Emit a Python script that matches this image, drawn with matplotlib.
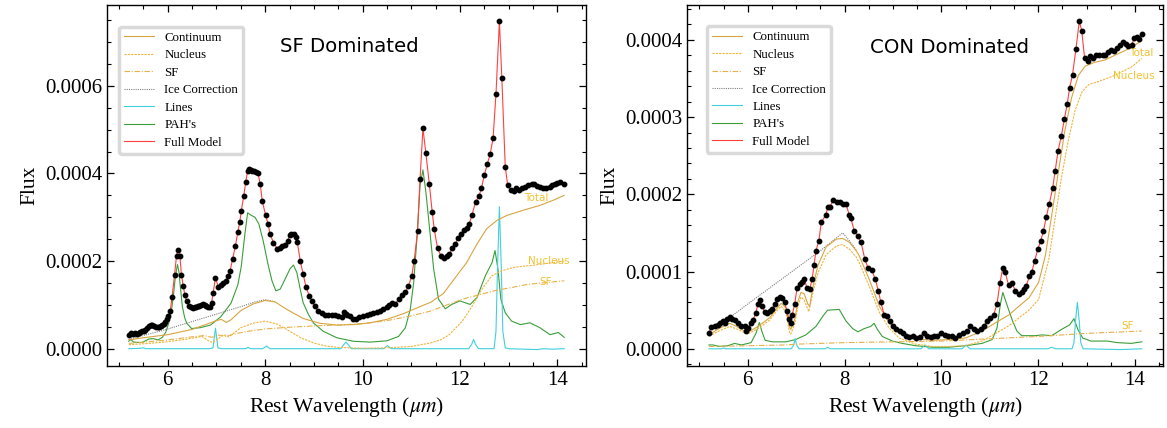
import numpy as np
import matplotlib
matplotlib.use("Agg")
import matplotlib.pyplot as plt
from matplotlib.ticker import MultipleLocator, AutoMinorLocator, FormatStrFormatter

plt.rcParams["font.family"] = ["Liberation Serif", "DejaVu Serif"]
plt.rcParams["mathtext.fontset"] = "stix"

SCALE = 1e-4  # all flux values below are in units of 1e-4

# ---------------- SF dominated ----------------
sf_wave = [5.20, 5.24, 5.29, 5.33, 5.37, 5.40, 5.44, 5.47, 5.51, 5.54, 5.58, 5.61, 5.65, 5.68, 5.72,
           5.75, 5.79, 5.82, 5.86, 5.89, 5.92, 5.95, 5.98, 6.01, 6.05, 6.09, 6.14, 6.18, 6.21, 6.25,
           6.28, 6.32, 6.35, 6.39, 6.44, 6.48, 6.51, 6.55, 6.58, 6.62, 6.65, 6.69, 6.72, 6.76, 6.79,
           6.83, 6.86, 6.90, 6.93, 6.98, 7.04, 7.09, 7.14, 7.19, 7.24, 7.28, 7.33, 7.39, 7.44, 7.48,
           7.51, 7.56, 7.60, 7.64, 7.67, 7.71, 7.74, 7.78, 7.81, 7.85, 7.90, 7.94, 8.01, 8.06, 8.10,
           8.17, 8.25, 8.30, 8.34, 8.41, 8.46, 8.50, 8.54, 8.59, 8.63, 8.66, 8.72, 8.78, 8.84, 8.91,
           8.96, 9.02, 9.09, 9.16, 9.23, 9.30, 9.37, 9.44, 9.50, 9.57, 9.62, 9.66, 9.69, 9.74, 9.81,
           9.87, 9.93, 10.00, 10.09, 10.15, 10.22, 10.29, 10.36, 10.43, 10.50, 10.55, 10.60, 10.67,
           10.74, 10.81, 10.88, 10.94, 11.01, 11.06, 11.13, 11.18, 11.24, 11.30, 11.37, 11.43, 11.47,
           11.54, 11.61, 11.67, 11.73, 11.78, 11.84, 11.90, 11.96, 12.02, 12.08, 12.14, 12.19, 12.25,
           12.32, 12.39, 12.44, 12.50, 12.56, 12.62, 12.68, 12.74, 12.81, 12.86, 12.93, 12.98, 13.04,
           13.10, 13.16, 13.22, 13.28, 13.34, 13.40, 13.47, 13.53, 13.59, 13.65, 13.71, 13.77, 13.84,
           13.89, 13.95, 14.00, 14.06, 14.14]
sf_flux = [0.32, 0.35, 0.34, 0.36, 0.34, 0.35, 0.38, 0.41, 0.40, 0.42, 0.47, 0.52, 0.55, 0.54, 0.51,
           0.50, 0.49, 0.50, 0.52, 0.54, 0.57, 0.62, 0.67, 0.74, 0.85, 1.19, 1.69, 2.12, 2.25, 2.12,
           1.69, 1.42, 1.23, 1.08, 0.98, 0.96, 0.94, 0.95, 0.96, 0.97, 0.98, 1.00, 1.02, 1.00, 0.98,
           0.95, 0.96, 1.05, 1.27, 1.62, 1.41, 1.45, 1.50, 1.54, 1.65, 1.77, 2.04, 2.35, 2.67, 2.90,
           3.15, 3.48, 3.80, 4.05, 4.10, 4.08, 4.06, 4.05, 4.03, 4.02, 3.75, 3.38, 3.04, 2.85, 2.62,
           2.42, 2.28, 2.30, 2.34, 2.37, 2.45, 2.60, 2.62, 2.62, 2.55, 2.43, 2.01, 1.70, 1.40, 1.20,
           1.09, 0.97, 0.86, 0.82, 0.78, 0.76, 0.78, 0.76, 0.74, 0.73, 0.84, 0.80, 0.78, 0.74, 0.68,
           0.68, 0.73, 0.74, 0.76, 0.80, 0.82, 0.84, 0.86, 0.90, 0.95, 0.99, 1.04, 1.01,
           1.13, 1.22, 1.30, 1.42, 1.66, 2.01, 2.68, 3.87, 5.03, 4.46, 3.77, 3.12, 2.74,
           2.29, 2.12, 2.08, 2.11, 2.16, 2.29, 2.39, 2.52, 2.62, 2.70, 2.75, 2.85, 3.06,
           3.35, 3.48, 3.66, 3.96, 4.21, 4.44, 4.80, 5.82, 7.47, 6.17, 4.15, 3.73, 3.63,
           3.59, 3.66, 3.62, 3.66, 3.68, 3.73, 3.77, 3.75, 3.72, 3.68, 3.67, 3.66, 3.68,
           3.73, 3.77, 3.79, 3.81, 3.75]

sf_cont_wave = [5.20, 5.50, 6.00, 6.50, 6.80, 7.00, 7.10, 7.20, 7.30, 7.50, 7.75, 8.00, 8.20, 8.44,
                8.78, 9.12, 9.47, 9.81, 10.15, 10.50, 10.84, 11.18, 11.40, 11.66, 11.93, 12.14,
                12.35, 12.55, 12.76, 12.96, 13.30, 13.64, 13.92, 14.14]
sf_cont = [0.20, 0.25, 0.32, 0.44, 0.56, 0.64, 0.67, 0.60, 0.66, 0.87, 1.02, 1.10, 1.07, 0.90,
           0.69, 0.58, 0.54, 0.55, 0.59, 0.67, 0.80, 0.96, 1.06, 1.26, 1.66, 1.97,
           2.39, 2.74, 2.93, 3.04, 3.16, 3.27, 3.39, 3.50]

sf_nuc_wave = [5.20, 5.60, 6.00, 6.40, 6.70, 6.85, 6.92, 7.05, 7.15, 7.25, 7.35, 7.50, 7.75, 8.00,
               8.25, 8.50, 8.75, 9.00, 9.25, 9.50, 10.00, 10.50, 11.00, 11.39, 11.60, 11.78, 12.05,
               12.25, 12.45, 12.65, 12.86, 13.13, 13.54, 14.14]
sf_nuc = [0.09, 0.12, 0.16, 0.22, 0.28, 0.17, 0.14, 0.24, 0.32, 0.27, 0.35, 0.48, 0.58, 0.63,
          0.56, 0.40, 0.24, 0.13, 0.06, 0.03, 0.01, 0.02, 0.05, 0.13, 0.20, 0.32, 0.63,
          0.97, 1.36, 1.66, 1.78, 1.86, 1.91, 2.00]

sf_sf_wave = [5.20, 5.60, 6.00, 6.50, 6.75, 6.90, 7.05, 7.20, 7.35, 7.60, 8.00, 8.50, 9.00, 9.50,
              10.00, 10.50, 11.00, 11.40, 12.05, 12.70, 13.40, 14.14]
sf_sf = [0.12, 0.16, 0.20, 0.27, 0.30, 0.26, 0.31, 0.28, 0.33, 0.39, 0.45, 0.49, 0.52, 0.54,
         0.57, 0.64, 0.75, 0.86, 1.13, 1.32, 1.47, 1.55]

sf_ice_wave = [5.20, 5.60, 6.00, 6.50, 7.00, 7.50, 7.80, 8.00, 8.20]
sf_ice = [0.21, 0.33, 0.45, 0.62, 0.79, 0.96, 1.07, 1.12, 1.07]

sf_pah_wave = [5.20, 5.24, 5.30, 5.47, 5.61, 5.70, 5.80, 5.89, 5.96, 6.02, 6.08, 6.12, 6.16, 6.20,
               6.23, 6.26, 6.30, 6.35, 6.39, 6.49, 6.67, 6.88, 7.09, 7.30, 7.44, 7.51, 7.58, 7.64,
               7.72, 7.79, 7.87, 7.96, 8.06, 8.14, 8.22, 8.31, 8.41, 8.51, 8.58, 8.65, 8.72, 8.78,
               8.89, 8.99, 9.19, 9.47, 9.81, 10.15, 10.50, 10.74, 10.88, 10.98, 11.05, 11.12, 11.18,
               11.24, 11.30, 11.37, 11.46, 11.56, 11.70, 11.83, 12.00, 12.21, 12.35, 12.52, 12.66,
               12.72, 12.78, 12.84, 12.93, 13.06, 13.24, 13.44, 13.64, 13.85, 14.02, 14.14]
sf_pah = [0.17, 0.21, 0.15, 0.14, 0.22, 0.23, 0.20, 0.26, 0.38, 0.58, 0.90, 1.25, 1.68, 1.92,
          1.75, 1.40, 0.96, 0.70, 0.58, 0.46, 0.48, 0.54, 0.73, 1.04, 1.46, 1.88, 2.58, 3.10,
          3.04, 3.00, 2.85, 2.46, 1.92, 1.55, 1.32, 1.36, 1.59, 1.82, 1.91, 1.74, 1.36, 1.05,
          0.78, 0.59, 0.40, 0.25, 0.17, 0.15, 0.18, 0.28, 0.48, 0.90, 1.51, 2.58, 3.73,
          4.08, 3.58, 2.81, 1.82, 1.13, 0.91, 1.01, 1.09, 1.01, 1.17, 1.66, 1.97,
          2.24, 1.82, 1.13, 0.82, 0.63, 0.55, 0.59, 0.48, 0.32, 0.37, 0.26]

sf_line_wave = [5.20, 5.45, 5.50, 5.55, 6.85, 6.93, 6.96, 6.98, 7.00, 7.03, 7.10, 7.60, 7.65, 7.70,
                7.95, 8.03, 8.10, 9.55, 9.62, 9.66, 9.70, 9.77, 10.43, 10.51, 10.59, 12.18, 12.24,
                12.28, 12.32, 12.38, 12.70, 12.74, 12.77, 12.81, 12.85, 12.88, 12.93, 13.00, 13.60,
                13.70, 13.90, 14.14]
sf_line = [0.00, 0.01, 0.02, 0.00, 0.00, 0.02, 0.30, 0.47, 0.30, 0.02, 0.00, 0.00, 0.03, 0.00,
           0.00, 0.06, 0.00, 0.00, 0.10, 0.15, 0.10, 0.00, 0.00, 0.07, 0.00, 0.00, 0.10,
           0.21, 0.10, 0.00, 0.00, 0.40, 1.80, 3.24, 1.80, 0.40, 0.02, 0.00, -0.02,
           0.00, -0.01, 0.00]

# ---------------- CON dominated ----------------
con_wave = [5.20, 5.25, 5.32, 5.38, 5.42, 5.48, 5.53, 5.58, 5.63, 5.68, 5.74, 5.80, 5.87, 5.94, 5.97,
            6.01, 6.06, 6.11, 6.17, 6.21, 6.26, 6.30, 6.35, 6.40, 6.45, 6.51, 6.56, 6.61, 6.66, 6.71,
            6.76, 6.81, 6.85, 6.89, 6.92, 6.97, 7.02, 7.07, 7.13, 7.17, 7.22, 7.28, 7.33, 7.37, 7.41,
            7.47, 7.52, 7.61, 7.66, 7.70, 7.77, 7.84, 7.91, 7.96, 8.03, 8.10, 8.13, 8.20, 8.27, 8.34,
            8.42, 8.49, 8.56, 8.63, 8.70, 8.75, 8.82, 8.88, 8.93, 9.00, 9.07, 9.14, 9.21, 9.27, 9.34,
            9.41, 9.48, 9.55, 9.64, 9.71, 9.78, 9.85, 9.91, 10.00, 10.07, 10.14, 10.21, 10.29, 10.37,
            10.44, 10.53, 10.60, 10.67, 10.74, 10.81, 10.88, 10.94, 11.01, 11.08, 11.15, 11.21, 11.27,
            11.32, 11.39, 11.46, 11.53, 11.60, 11.66, 11.70, 11.75, 11.82, 11.87, 11.93, 11.99, 12.05,
            12.11, 12.17, 12.23, 12.30, 12.35, 12.41, 12.48, 12.54, 12.60, 12.65, 12.71, 12.78, 12.85,
            12.90, 12.96, 13.02, 13.08, 13.14, 13.20, 13.26, 13.33, 13.39, 13.45, 13.51, 13.57, 13.63,
            13.69, 13.75, 13.81, 13.86, 13.93, 13.99, 14.04, 14.09, 14.14]
con_flux = [0.21, 0.28, 0.29, 0.31, 0.33, 0.36, 0.34, 0.38, 0.41, 0.39, 0.37, 0.34, 0.30, 0.29, 0.23,
            0.27, 0.34, 0.37, 0.47, 0.58, 0.63, 0.55, 0.48, 0.46, 0.49, 0.52, 0.58, 0.64, 0.67, 0.66,
            0.60, 0.49, 0.38, 0.34, 0.44, 0.58, 0.79, 0.84, 0.87, 0.91, 0.79, 0.77, 0.90, 1.09, 1.27,
            1.40, 1.64, 1.73, 1.84, 1.84, 1.93, 1.90, 1.90, 1.88, 1.87, 1.73, 1.69, 1.53, 1.46, 1.38,
            1.16, 1.04, 1.02, 0.91, 0.75, 0.60, 0.44, 0.42, 0.36, 0.29, 0.25, 0.23, 0.20, 0.16, 0.15,
            0.16, 0.14, 0.15, 0.21, 0.16, 0.15, 0.16, 0.17, 0.20, 0.18, 0.17, 0.16, 0.14, 0.18,
            0.20, 0.23, 0.29, 0.26, 0.23, 0.26, 0.29, 0.36, 0.40, 0.44, 0.58, 0.85, 1.05,
            0.99, 0.82, 0.85, 0.75, 0.71, 0.73, 0.77, 0.81, 0.94, 1.00, 1.14, 1.29, 1.39,
            1.53, 1.71, 1.88, 2.08, 2.30, 2.56, 2.76, 2.97, 3.17, 3.38, 3.55, 3.88, 4.24,
            4.12, 3.76, 3.73, 3.79, 3.76, 3.80, 3.80, 3.81, 3.81, 3.84, 3.87, 3.86, 3.89,
            3.93, 3.97, 3.95, 3.92, 3.93, 4.03, 4.04, 4.01, 4.08]

con_cont_wave = [5.20, 5.40, 5.63, 5.77, 6.00, 6.21, 6.45, 6.60, 6.69, 6.79, 6.86, 6.89, 6.97, 7.04,
                 7.10, 7.17, 7.24, 7.28, 7.35, 7.45, 7.62, 7.83, 7.96, 8.10, 8.24, 8.30, 8.51, 8.72,
                 8.92, 9.13, 9.47, 9.82, 10.16, 10.50, 10.84, 11.18, 11.40, 11.60, 11.81, 12.01,
                 12.15, 12.28, 12.42, 12.55, 12.69, 12.83, 12.97, 13.17, 13.38, 13.58, 13.79, 13.99,
                 14.14]
con_cont = [0.18, 0.26, 0.33, 0.29, 0.21, 0.29, 0.40, 0.52, 0.59, 0.53, 0.29, 0.25, 0.38, 0.62,
            0.73, 0.71, 0.58, 0.55, 0.81, 1.08, 1.32, 1.42, 1.43, 1.38, 1.27, 1.21, 0.90, 0.55,
            0.34, 0.20, 0.13, 0.11, 0.12, 0.14, 0.23, 0.36, 0.44, 0.55, 0.66, 0.86,
            1.21, 1.73, 2.30, 2.82, 3.25, 3.54, 3.66, 3.71, 3.74, 3.80, 3.86, 3.93,
            3.99]

con_nuc_wave = [5.20, 5.40, 5.63, 5.80, 6.00, 6.21, 6.45, 6.60, 6.69, 6.79, 6.86, 6.89, 6.97, 7.04,
                7.10, 7.17, 7.26, 7.35, 7.45, 7.62, 7.83, 7.96, 8.10, 8.24, 8.30, 8.51, 8.72, 8.92,
                9.13, 9.47, 9.82, 10.16, 10.50, 10.84, 11.18, 11.40, 11.60, 11.81, 12.01, 12.22,
                12.35, 12.48, 12.62, 12.76, 12.90, 13.04, 13.24, 13.58, 13.93, 14.14]
con_nuc = [0.16, 0.23, 0.29, 0.25, 0.19, 0.26, 0.37, 0.49, 0.55, 0.48, 0.22, 0.19, 0.32, 0.56,
           0.67, 0.63, 0.48, 0.74, 0.98, 1.22, 1.33, 1.35, 1.29, 1.19, 1.12, 0.81, 0.47, 0.27,
           0.14, 0.06, 0.03, 0.03, 0.04, 0.10, 0.22, 0.30, 0.40, 0.50, 0.64, 1.16,
           1.69, 2.21, 2.69, 3.08, 3.32, 3.42, 3.46, 3.54, 3.65, 3.76]

con_sf_wave = [5.20, 6.00, 6.80, 7.00, 8.00, 9.00, 10.00, 11.00, 12.00, 13.00, 14.14]
con_sf = [0.03, 0.04, 0.05, 0.06, 0.08, 0.09, 0.10, 0.13, 0.16, 0.20, 0.23]

con_ice_wave = [5.62, 6.00, 6.50, 7.00, 7.50, 7.96, 8.10, 8.24]
con_ice = [0.40, 0.58, 0.81, 1.04, 1.27, 1.50, 1.40, 1.28]

con_pah_wave = [5.20, 5.28, 5.42, 5.59, 5.73, 5.87, 6.07, 6.17, 6.24, 6.29, 6.36, 6.51, 6.79, 6.99,
                7.20, 7.41, 7.55, 7.65, 7.89, 8.03, 8.17, 8.28, 8.40, 8.54, 8.61, 8.68, 8.78, 8.99,
                9.19, 9.47, 9.81, 10.15, 10.50, 10.84, 11.05, 11.15, 11.22, 11.27, 11.35, 11.46,
                11.56, 11.66, 11.94, 12.08, 12.28, 12.48, 12.65, 12.74, 12.82, 12.92, 13.09, 13.43,
                13.64, 13.92, 14.14]
con_pah = [0.05, 0.05, 0.03, 0.04, 0.07, 0.05, 0.08, 0.20, 0.34, 0.23, 0.11, 0.09, 0.09, 0.12,
           0.18, 0.29, 0.42, 0.50, 0.51, 0.36, 0.26, 0.22, 0.26, 0.29, 0.33, 0.25, 0.16, 0.10,
           0.07, 0.04, 0.02, 0.02, 0.04, 0.07, 0.12, 0.27, 0.58, 0.73, 0.58, 0.38,
           0.23, 0.17, 0.17, 0.18, 0.17, 0.25, 0.31, 0.39, 0.25, 0.14, 0.10, 0.10,
           0.08, 0.07, 0.09]

con_line_wave = [5.20, 5.45, 5.50, 5.55, 6.90, 6.95, 6.98, 7.01, 7.06, 7.60, 7.65, 7.70, 9.58, 9.66,
                 9.74, 10.43, 10.51, 10.59, 12.20, 12.28, 12.36, 12.70, 12.74, 12.77, 12.81, 12.85,
                 12.88, 12.93, 13.70, 14.14]
con_line = [0.00, 0.00, 0.01, 0.00, 0.00, 0.05, 0.13, 0.05, 0.00, 0.00, 0.02, 0.00, 0.00, 0.05,
            0.00, 0.00, 0.05, 0.00, 0.00, 0.02, 0.00, 0.00, 0.08, 0.35, 0.60, 0.35,
            0.08, 0.00, -0.01, 0.00]

c_cont = "#d9a441"
c_nuc = "#f0b43c"
c_sf = "#e8b04a"
c_lab = "#f2c230"
lw = 0.8


def draw(ax, d, title, tpos, labels, ystep, leg_anchor):
    s = SCALE
    ax.plot(d["pah_w"], np.array(d["pah"]) * s, color="#3a9e3a", lw=lw, label="PAH's", zorder=2)
    ax.plot(d["line_w"], np.array(d["line"]) * s, color="#3fd0dc", lw=lw, label="Lines", zorder=2)
    ax.plot(d["ice_w"], np.array(d["ice"]) * s, color="grey", lw=lw, ls=(0, (1, 1)),
            label="Ice Correction", zorder=2)
    ax.plot(d["sf_w"], np.array(d["sf"]) * s, color=c_sf, lw=lw, ls=(0, (5, 1.5, 1, 1.5)),
            label="SF", zorder=3)
    ax.plot(d["nuc_w"], np.array(d["nuc"]) * s, color=c_nuc, lw=lw, ls=(0, (2, 1)),
            label="Nucleus", zorder=3)
    ax.plot(d["cont_w"], np.array(d["cont"]) * s, color=c_cont, lw=lw, label="Continuum", zorder=3)
    ax.plot(d["w"], np.array(d["f"]) * s, color="#ff4040", lw=lw, label="Full Model", zorder=4)
    ax.plot(d["w"], np.array(d["f"]) * s, "o", color="black", ms=3.2, zorder=5)

    for txt, x, y in labels:
        ax.text(x, y * s, txt, color=c_lab, fontsize=7.5, family="DejaVu Sans",
                ha="center", va="center")

    ax.text(tpos[0], tpos[1], title, transform=ax.transAxes, family="DejaVu Sans",
            fontsize=14.2, ha="center", va="center")

    h, l = ax.get_legend_handles_labels()
    order = ["Continuum", "Nucleus", "SF", "Ice Correction", "Lines", "PAH's", "Full Model"]
    hd = dict(zip(l, h))
    leg = ax.legend([hd[k] for k in order], order, loc="upper left", bbox_to_anchor=leg_anchor,
                    fontsize=9.3, frameon=True, fancybox=True, borderaxespad=0,
                    handlelength=2.3, labelspacing=0.42)
    leg.get_frame().set_edgecolor("#d0d0d0")
    leg.get_frame().set_linewidth(2.5)

    ax.set_xlabel(r"Rest Wavelength ($\mu m$)", fontsize=15.5)
    ax.set_ylabel("Flux", fontsize=15.5)
    ax.xaxis.set_major_locator(MultipleLocator(2))
    ax.xaxis.set_minor_locator(AutoMinorLocator(4))
    ax.yaxis.set_major_locator(MultipleLocator(ystep))
    ax.yaxis.set_minor_locator(AutoMinorLocator())
    ax.yaxis.set_major_formatter(FormatStrFormatter("%.4f"))
    ax.tick_params(which="both", direction="in", top=True, right=True, labelsize=15)
    ax.tick_params(which="major", length=5, width=0.9)
    ax.tick_params(which="minor", length=2.8, width=0.8)
    for sp in ax.spines.values():
        sp.set_linewidth(1.0)


fig = plt.figure(figsize=(11.67, 4.28), dpi=100)
ax1 = fig.add_axes([0.0917, 0.1449, 0.4104, 0.8435])
ax2 = fig.add_axes([0.5890, 0.1449, 0.4079, 0.8435])

sf_data = dict(w=sf_wave, f=sf_flux, cont_w=sf_cont_wave, cont=sf_cont, nuc_w=sf_nuc_wave,
               nuc=sf_nuc, sf_w=sf_sf_wave, sf=sf_sf, ice_w=sf_ice_wave, ice=sf_ice,
               pah_w=sf_pah_wave, pah=sf_pah, line_w=sf_line_wave, line=sf_line)
con_data = dict(w=con_wave, f=con_flux, cont_w=con_cont_wave, cont=con_cont, nuc_w=con_nuc_wave,
                nuc=con_nuc, sf_w=con_sf_wave, sf=con_sf, ice_w=con_ice_wave, ice=con_ice,
                pah_w=con_pah_wave, pah=con_pah, line_w=con_line_wave, line=con_line)

draw(ax1, sf_data, "SF Dominated", (0.505, 0.884),
     [("Total", 13.56, 3.43), ("Nucleus", 13.83, 2.00), ("SF", 13.75, 1.52)], 0.0002, (0.025, 0.94))
draw(ax2, con_data, "CON Dominated", (0.55, 0.881),
     [("Total", 14.13, 3.83), ("Nucleus", 13.97, 3.53), ("SF", 13.84, 0.30)], 0.0001, (0.041, 0.942))

fig.savefig("out.png", dpi=100)
